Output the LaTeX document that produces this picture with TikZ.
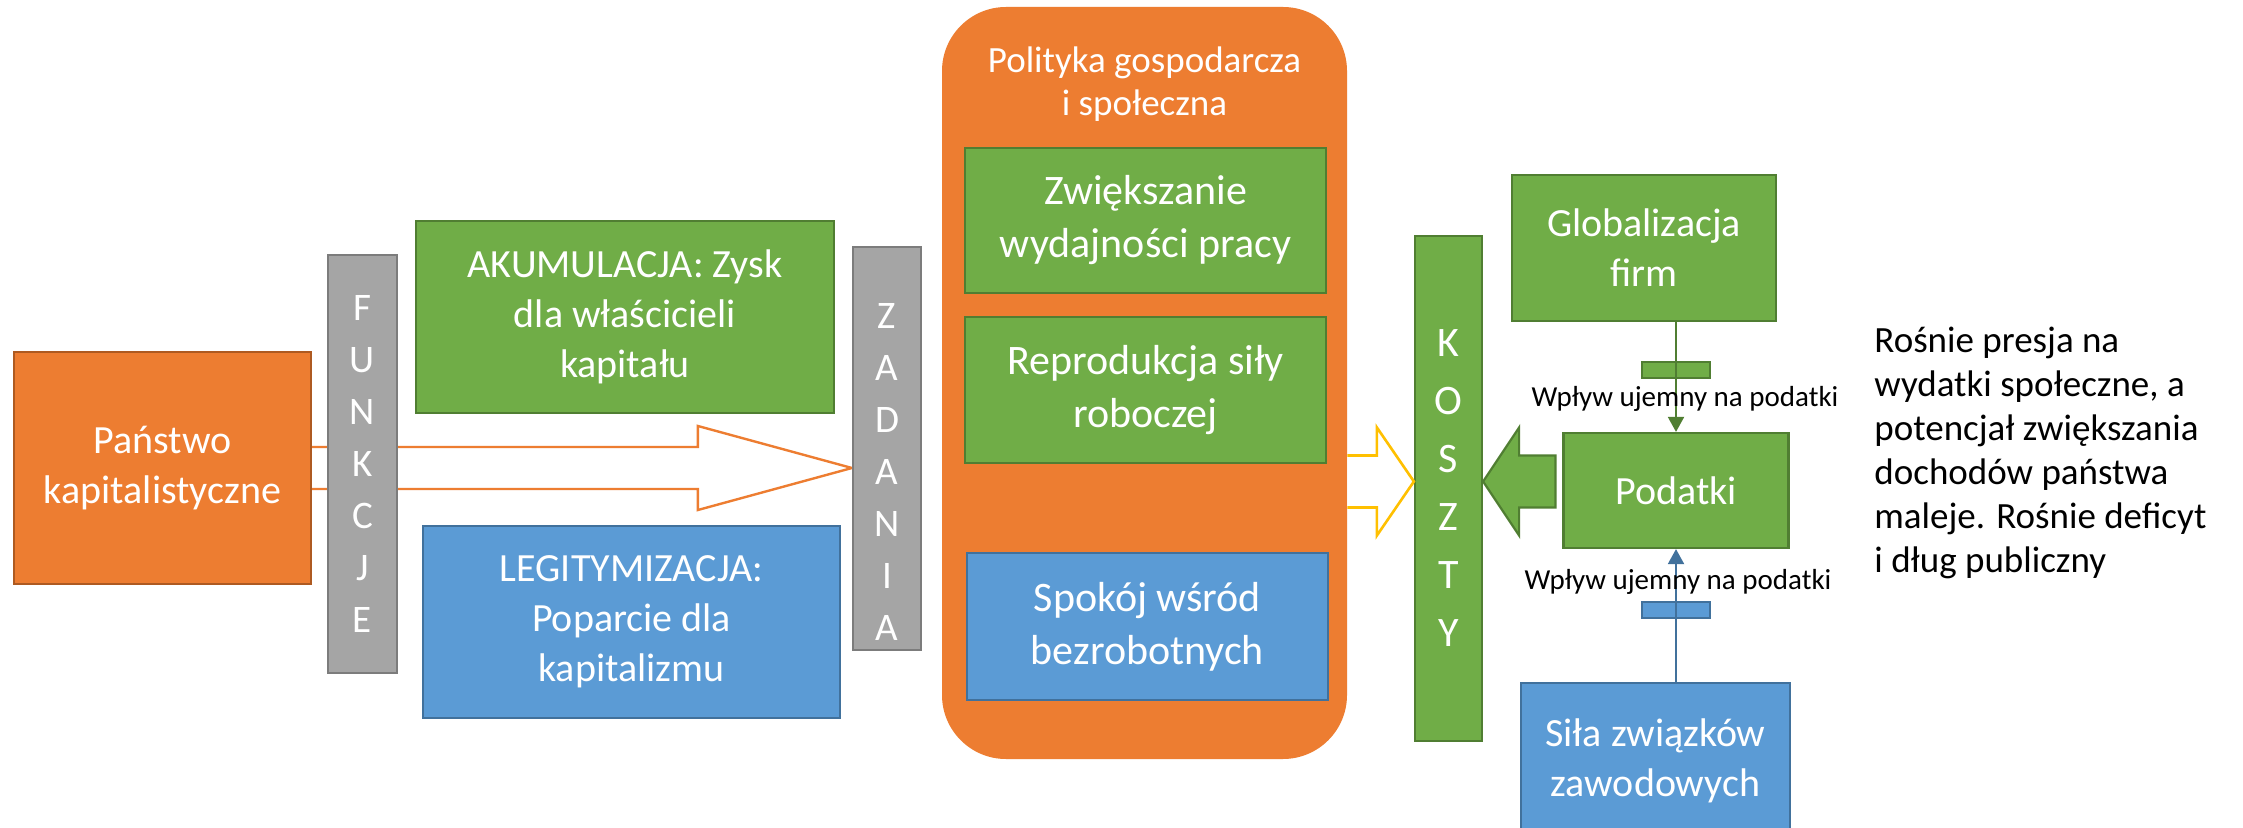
\documentclass[tikz,border=0pt]{standalone}
\usepackage{fontspec}
\setmainfont{Carlito}
\usetikzlibrary{calc,arrows.meta,backgrounds}
\definecolor{ora}{HTML}{ED7D31}
\definecolor{orad}{HTML}{AE5A21}
\definecolor{grn}{HTML}{70AD47}
\definecolor{grnd}{HTML}{507E32}
\definecolor{blu}{HTML}{5B9BD5}
\definecolor{blud}{HTML}{41719C}
\definecolor{gry}{HTML}{A5A5A5}
\definecolor{gryd}{HTML}{7C7C7C}
\definecolor{yel}{HTML}{FFC000}
\begin{document}
\begin{tikzpicture}[x=0.5pt,y=-0.5pt,
  box/.style={draw, line width=1.1pt, text=white, align=center, inner sep=0pt,
              font=\fontsize{20}{25}\selectfont},
  obox/.style={box, fill=ora, draw=orad},
  gbox/.style={box, fill=grn, draw=grnd},
  bbox/.style={box, fill=blu, draw=blud},
  midbox/.style={font=\fontsize{21}{26.5}\selectfont},
  vbar/.style={box, fill=gry, draw=gryd, font=\fontsize{19.5}{26}\selectfont},
  vtext/.style={text=white, align=center, inner sep=0pt, font=\fontsize{19.5}{26}\selectfont},
  gbar/.style={draw=grnd, fill=grn, line width=1pt, minimum width=34pt, minimum height=8pt, inner sep=0pt},
  bbar/.style={draw=blud, fill=blu, line width=1pt, minimum width=34pt, minimum height=8pt, inner sep=0pt},
  gline/.style={draw=grnd, line width=1pt, -{Triangle[length=7.5pt,width=8pt]}},
  bline/.style={draw=blud, line width=1pt, -{Triangle[length=7.5pt,width=8pt]}},
  lbl/.style={font=\fontsize{14.5}{17}\selectfont, text=black, inner sep=0pt},
  hollow/.style={draw=ora, fill=white, line width=1.2pt, line join=miter},
  yarrow/.style={draw=yel, fill=white, line width=1.3pt, line join=miter},
  garrow/.style={draw=grnd, fill=grn, line width=1.1pt, line join=miter}
]
\clip (0,0) rectangle (2243,828);

% left part
\node[obox, minimum width=148.5pt, minimum height=116pt] (pan) at (162.5,468) {Państwo\\kapitalistyczne};
\node[vbar, minimum width=34.5pt, minimum height=209pt] (funk) at (362.5,464) {F\\U\\N\\K\\C\\J\\E};
\node[gbox, minimum width=209pt, minimum height=96pt] (akum) at (625,317) {AKUMULACJA: Zysk\\dla właścicieli\\kapitału};
\node[bbox, minimum width=208.5pt, minimum height=96pt] (legit) at (631.5,622) {LEGITYMIZACJA:\\Poparcie dla\\kapitalizmu};
\node[vbar, minimum width=34pt, minimum height=201.5pt] (zad) at (887,448.5) {};
\node[vtext] (zadtxt) at (887,472) {Z\\A\\D\\A\\N\\I\\A};

% middle rounded box
\node[fill=ora, draw=none, rounded corners=32pt, minimum width=202.5pt, minimum height=376pt, inner sep=0pt] (pol) at (1144.5,383) {};
\node[text=white, align=center, font=\fontsize{18.5}{21.5}\selectfont, inner sep=0pt] (poltitle) at (1144.5,84) {Polityka gospodarcza\\i społeczna};
\node[gbox, midbox, minimum width=180.5pt, minimum height=72.5pt] (zwi) at (1145.5,220.5) {Zwiększanie\\wydajności pracy};
\node[gbox, midbox, minimum width=180.5pt, minimum height=73pt] (rep) at (1145.5,390) {Reprodukcja siły\\roboczej};
\node[bbox, midbox, minimum width=180.5pt, minimum height=73.5pt] (spo) at (1147.5,626.5) {Spokój wśród\\bezrobotnych};

% right part
\node[gbox, font=\fontsize{21}{29}\selectfont, minimum width=33.5pt, minimum height=252.5pt] (kosz) at (1448.5,488.5) {K\\O\\S\\Z\\T\\Y};
\node[gbox, minimum width=132pt, minimum height=73pt] (glob) at (1644,248) {Globalizacja\\firm};
\node[gbox, minimum width=112.5pt, minimum height=57.5pt] (pod) at (1676,490.5) {Podatki};
\node[bbox, minimum width=134.5pt, minimum height=78pt] (sila) at (1655.5,761) {Siła związków\\zawodowych};

% block arrows
\begin{scope}[on background layer]
  \fill[white] (0,0) rectangle (2243,828);
  \coordinate (t1) at (zad.west |- pan.east);
  \draw[hollow] ($(pan.east)+(0,-21)$) -- ($(t1)+(-154,-21)$) -- ($(t1)+(-154,-42)$) -- (t1)
     -- ($(t1)+(-154,42)$) -- ($(t1)+(-154,21)$) -- ($(pan.east)+(0,21)$);
\end{scope}
\coordinate (ya) at ($(kosz.west)+(0,-7)$);
\coordinate (ys) at (pol.east |- ya);
\draw[yarrow] ($(ys)+(0,-26)$) -- ($(ya)+(-37,-26)$) -- ($(ya)+(-37,-54)$) -- (ya)
   -- ($(ya)+(-37,54)$) -- ($(ya)+(-37,26)$) -- ($(ys)+(0,26)$);
\coordinate (ga) at ($(kosz.east)+(0,-7)$);
\coordinate (gs) at ($(pod.west |- ga)+(-7,0)$);
\draw[garrow] (ga) -- ($(ga)+(36,-54)$) -- ($(ga)+(36,-26)$) -- ($(gs)+(0,-26)$)
   -- ($(gs)+(0,26)$) -- ($(ga)+(36,26)$) -- ($(ga)+(36,54)$) -- cycle;

% connectors with bars
\node[gbar] (bar1) at (pod.north |- 0,370) {};
\draw[gline] (glob.south -| pod.north) -- (pod.north);
\node[lbl] (l1) at (1685,399) {Wpływ ujemny na podatki};
\node[bbar] (bar2) at (pod.south |- 0,610) {};
\draw[bline] (sila.north -| pod.south) -- (pod.south);
\node[lbl] (l2) at (1678,582) {Wpływ ujemny na podatki};

% side text
\node[anchor=west, align=left, inner sep=0pt, font=\fontsize{18.5}{22}\selectfont] (rt) at (1874,453)
  {Rośnie presja na\\wydatki społeczne, a\\potencjał zwiększania\\dochodów państwa\\maleje. Rośnie deficyt\\i dług publiczny};
\end{tikzpicture}
\end{document}
